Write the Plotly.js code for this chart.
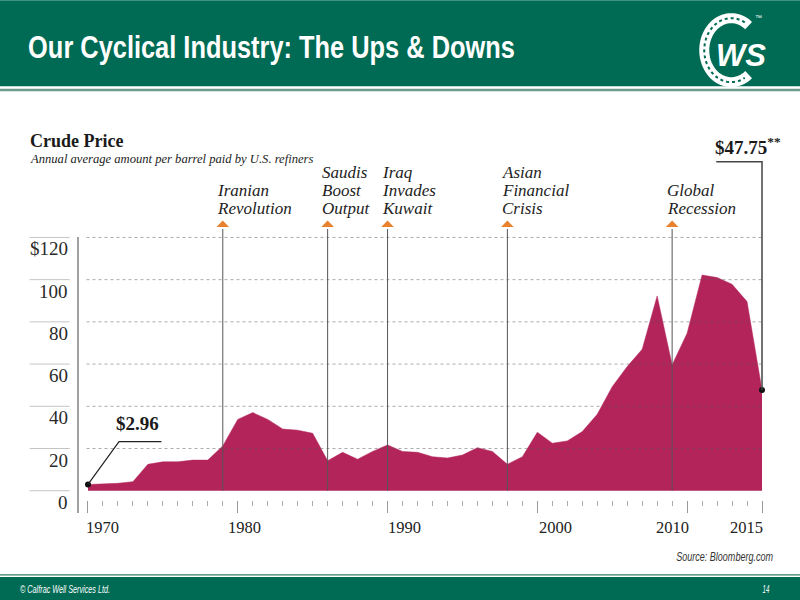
<!DOCTYPE html>
<html>
<head>
<meta charset="utf-8">
<script src="https://cdn.plot.ly/plotly-3.0.1.min.js"></script>
<style>
html,body{margin:0;padding:0;background:#fff;}
#chart{width:800px;height:600px;}
</style>
</head>
<body>
<div id="chart"></div>
<script>
// ---------- DATA ----------
const years = [1970,1971,1972,1973,1974,1975,1976,1977,1978,1979,
               1980,1981,1982,1983,1984,1985,1986,1987,1988,1989,
               1990,1991,1992,1993,1994,1995,1996,1997,1998,1999,
               2000,2001,2002,2003,2004,2005,2006,2007,2008,2009,
               2010,2011,2012,2013,2014,2015];
const prices = [2.96,3.2,3.5,4.3,12.5,13.7,13.7,14.5,14.5,21.2,
                33.8,37.0,33.8,29.2,28.7,27.2,14.2,18.2,14.9,18.6,
                21.7,18.6,18.2,16.1,15.5,16.9,20.4,18.6,12.5,16.1,
                27.7,22.5,23.6,28.0,36.2,49.3,58.8,67.0,92.3,59.6,
                74.6,102.2,101.0,97.8,89.6,47.75];
const eventYears = [1979, 1986, 1990, 1998, 2009];
const eventLabels = [["Iranian","Revolution"],["Saudis","Boost","Output"],["Iraq","Invades","Kuwait"],["Asian","Financial","Crisis"],["Global","Recession"]];
const yTickVals = [0,20,40,60,80,100,120];
const yTickText = ["0","20","40","60","80","100","$120"];
const xTickVals = [1970,1980,1990,2000,2010,2015];
const xTickText = ["1970","1980","1990","2000","2010","2015"];
const startLabel = "$2.96";
const endLabel = "$47.75";
const chartTitle = "Crude Price";
const chartSubtitle = "Annual average amount per barrel paid by U.S. refiners";
const pageTitle = "Our Cyclical Industry: The Ups & Downs";
const sourceText = "Source: Bloomberg.com";
const footerText = "© Calfrac Well Services Ltd.";
const pageNumber = "14";

// ---------- GEOMETRY / STYLE ----------
const L = 82.3, T = 228.9, PW = 685.4, PH = 271.1;
const xRange = [1969.6, 2015.4], yRange = [-4.4, 124];
const SERIF = "Liberation Serif, DejaVu Serif, serif";
const SANS = "Liberation Sans, Arial, DejaVu Sans, sans-serif";
const GREEN = "#006B54";
const FILL = "#B3245B";
const ORANGE = "#E8822E";
const xLabelShift = [15, 7, 17, 18.5, -14.5, -15.5];
// target widths (px) for condensed sans texts: [text, width, anchorSide]
const condensed = [[pageTitle, 487, 'left'], [sourceText, 97, 'right'], [footerText, 90, 'left'], [pageNumber, 7, 'right']];

function pX(xp){ return (xp - L) / PW; }
function pY(yp){ return (T + PH - yp) / PH; }
function yearAt(xp){ return xRange[0] + (xp - L) / PW * (xRange[1] - xRange[0]); }
function valAt(yp){ return yRange[0] + (T + PH - yp) / PH * (yRange[1] - yRange[0]); }
function pxOfVal(v){ return T + PH - (v - yRange[0]) / (yRange[1] - yRange[0]) * PH; }

function esc(s){ return s.replace(/&/g,'&amp;'); }
function ann(text, xp, baseline, fs, family, opt){
  opt = opt || {};
  return Object.assign({
    xref:'paper', yref:'paper', x:pX(xp), y:pY(baseline - 0.34*fs),
    xanchor:'left', yanchor:'middle', showarrow:false, text:text,
    borderpad:0, borderwidth:0,
    font:{family:family, size:fs, color:'#222'}
  }, opt);
}
function rectPx(x0,y0,x1,y1,color){
  return {type:'rect', xref:'paper', yref:'paper', x0:pX(x0), x1:pX(x1), y0:pY(y0), y1:pY(y1),
          fillcolor:color, line:{width:0}, layer:'below'};
}

// ---------- TRACES ----------
const area = {
  type:'scatter', mode:'lines', x:years, y:prices, fill:'tozeroy',
  fillcolor:FILL, line:{color:FILL, width:0.5}, hoverinfo:'skip'
};
const ends = {
  type:'scatter', mode:'markers',
  x:[years[0], years[years.length-1]], y:[prices[0], prices[prices.length-1]],
  marker:{color:'#111', size:6}, cliponaxis:false, hoverinfo:'skip'
};

// ---------- SHAPES ----------
const shapes = [];
shapes.push(rectPx(0,0,800,86,GREEN));
shapes.push(rectPx(0,88.7,800,91,'#6E9A8C'));
shapes.push(rectPx(0,574.2,800,575.6,'#2C7B63'));
shapes.push(rectPx(0,577,800,600,GREEN));

yTickVals.forEach(v => {
  if (v > 0) shapes.push({type:'line', xref:'x', yref:'y', x0:years[0]-0.1, x1:years[years.length-1], y0:v, y1:v,
    line:{color:'rgba(90,90,90,0.5)', width:1, dash:'dot'}, layer:'above'});
  shapes.push({type:'line', xref:'paper', yref:'y', x0:pX(30), x1:pX(70), y0:v, y1:v,
    line:{color:'#c4c4c4', width:1}});
});
shapes.push({type:'line', xref:'paper', yref:'paper', x0:pX(78.3), x1:pX(78.3), y0:pY(237), y1:pY(513),
  line:{color:'#8a8a8a', width:1.6}});

const triHalf = 6.3 / PW * (xRange[1]-xRange[0]);
eventYears.forEach(yr => {
  shapes.push({type:'line', xref:'x', yref:'y', x0:yr, x1:yr, y0:0, y1:yRange[1],
    line:{color:'#555', width:1}, layer:'above'});
  shapes.push({type:'path', xref:'x', yref:'paper',
    path:`M ${yr-triHalf} ${pY(227)} L ${yr+triHalf} ${pY(227)} L ${yr} ${pY(220.5)} Z`,
    fillcolor:ORANGE, line:{width:0}});
});

shapes.push({type:'path', xref:'x', yref:'y',
  path:`M ${years[0]} ${prices[0]} L ${yearAt(119.3)} ${valAt(441.7)} L ${yearAt(161.7)} ${valAt(441.7)}`,
  line:{color:'#222', width:1.2}, layer:'above'});
const lastY = years[years.length-1], lastV = prices[prices.length-1];
shapes.push({type:'path', xref:'x', yref:'paper',
  path:`M ${lastY} ${pY(pxOfVal(lastV))} L ${lastY} ${pY(161.7)} L ${yearAt(716)} ${pY(161.7)}`,
  line:{color:'#444', width:1.5}});

// logo horseshoe
(function(){
  const cx=731, cy=50, rx=27, ry=32;
  let d='';
  for (let a=50; a<=310; a+=5){
    const t=a*Math.PI/180;
    d += (a===50?'M ':' L ') + pX(cx+rx*Math.cos(t)) + ' ' + pY(cy-ry*Math.sin(t));
  }
  shapes.push({type:'path', xref:'paper', yref:'paper', path:d, line:{color:'#fff', width:10}});
  let d2='';
  for (let a=60; a<=300; a+=5){
    const t=a*Math.PI/180;
    d2 += (a===60?'M ':' L ') + pX(cx+rx*Math.cos(t)) + ' ' + pY(cy-ry*Math.sin(t));
  }
  shapes.push({type:'path', xref:'paper', yref:'paper', path:d2, line:{color:GREEN, width:2, dash:'dot'}});
})();

// ---------- ANNOTATIONS ----------
const annotations = [];
annotations.push(ann(esc(pageTitle), 28, 58, 32, SANS, {font:{family:SANS, size:32, color:'#fff', weight:'bold'}}));
annotations.push(ann('WS', 716, 66, 31, SANS, {font:{family:SANS, size:31, color:'#fff', weight:'bold', style:'italic'}}));
annotations.push(ann('™', 755, 20, 7, SANS, {font:{family:SANS, size:7, color:'#fff'}}));

annotations.push(ann(chartTitle, 30, 147.3, 18, SERIF, {font:{family:SERIF, size:18, color:'#1a1a1a', weight:'bold'}}));
annotations.push(ann(chartSubtitle, 30, 163, 12.6, SERIF, {font:{family:SERIF, size:12.6, color:'#222', style:'italic'}}));

eventYears.forEach((yr, i) => {
  const lines = eventLabels[i];
  lines.forEach((ln, j) => {
    const base = 214 - (lines.length-1-j)*18;
    annotations.push({xref:'x', yref:'paper', x:yr, xshift:-5.5, y:pY(base - 0.34*17),
      xanchor:'left', yanchor:'middle', showarrow:false, text:ln, borderpad:0, borderwidth:0,
      font:{family:SERIF, size:17, color:'#222', style:'italic'}});
  });
});

yTickVals.forEach((v, i) => {
  annotations.push({xref:'paper', yref:'paper', x:pX(68.3), y:pY(pxOfVal(v) + 18 - 0.34*19),
    xanchor:'right', yanchor:'middle', showarrow:false, text:yTickText[i], borderpad:0, borderwidth:0,
    font:{family:SERIF, size:19, color:'#2a2a2a'}});
});
xTickVals.forEach((v, i) => {
  annotations.push({xref:'x', yref:'paper', x:v, xshift:xLabelShift[i], y:pY(533 - 0.34*16.5),
    xanchor:'center', yanchor:'middle', showarrow:false, text:xTickText[i], borderpad:0, borderwidth:0,
    font:{family:SERIF, size:16.5, color:'#222'}});
});

annotations.push(ann(startLabel, 116.7, 430, 19, SERIF, {font:{family:SERIF, size:19, color:'#1a1a1a', weight:'bold'}}));
annotations.push(ann(endLabel + '<sup>**</sup>', 715, 152.7, 19, SERIF, {font:{family:SERIF, size:19, color:'#1a1a1a', weight:'bold'}}));

annotations.push(ann(sourceText, 773, 561, 12.5, SANS, {xanchor:'right', font:{family:SANS, size:12.5, color:'#333', style:'italic'}}));
annotations.push(ann(footerText, 20, 593, 10, SANS, {font:{family:SANS, size:10, color:'#fff', style:'italic'}}));
annotations.push(ann(pageNumber, 770, 593, 10, SANS, {xanchor:'right', font:{family:SANS, size:10, color:'#fff', style:'italic'}}));

// ---------- LAYOUT ----------
const layout = {
  width:800, height:600,
  margin:{l:L, r:800-L-PW, t:T, b:600-T-PH, pad:0},
  paper_bgcolor:'#fff', plot_bgcolor:'rgba(0,0,0,0)',
  showlegend:false,
  xaxis:{range:xRange, showgrid:false, zeroline:false, showline:false,
    tickmode:'array', tickvals:xTickVals, ticktext:xTickText, showticklabels:false,
    ticks:'outside', ticklen:12, tickcolor:'#999', tickwidth:1,
    minor:{tickmode:'linear', tick0:1970, dtick:1, ticks:'outside', ticklen:5, tickcolor:'#aaa', tickwidth:1, showgrid:false},
    fixedrange:true},
  yaxis:{range:yRange, showgrid:false, zeroline:false, showline:false, showticklabels:false, ticks:'', fixedrange:true},
  shapes:shapes, annotations:annotations
};

Plotly.newPlot('chart', [area, ends], layout, {displayModeBar:false, staticPlot:true}).then(gd => {
  // narrow (condensed) look for the sans texts of the slide frame
  const texts = gd.querySelectorAll('text.annotation-text');
  texts.forEach(el => {
    condensed.forEach(([txt, w, side]) => {
      if (el.textContent === txt) {
        const bb = el.getBBox();
        if (!bb.width) return;
        const s = Math.min(1, w / bb.width);
        const ref = side === 'left' ? bb.x : bb.x + bb.width;
        el.setAttribute('transform', `translate(${ref*(1-s)} 0) scale(${s} 1)`);
      }
    });
  });
});
</script>
</body>
</html>
